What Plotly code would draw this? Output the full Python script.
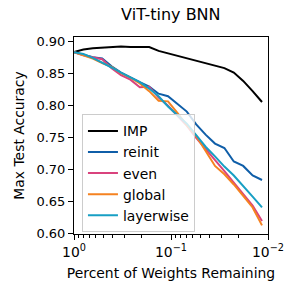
import plotly.graph_objects as go

# Fraction of weights remaining (20% pruned per round)
rounds = list(range(21))
weights_remaining = [0.8 ** k for k in rounds]

imp = [0.883, 0.887, 0.889, 0.890, 0.891, 0.892, 0.891, 0.891, 0.891, 0.885, 0.881,
       0.878, 0.874, 0.869, 0.865, 0.862, 0.858, 0.851, 0.838, 0.822, 0.805]
reinit = [0.883, 0.879, 0.875, 0.873, 0.861, 0.851, 0.843, 0.836, 0.829, 0.818, 0.814,
          0.802, 0.790, 0.770, 0.754, 0.740, 0.733, 0.712, 0.705, 0.690, 0.683]
even = [0.883, 0.878, 0.875, 0.872, 0.858, 0.847, 0.840, 0.828, 0.829, 0.812, 0.799,
        0.784, 0.768, 0.749, 0.732, 0.715, 0.697, 0.679, 0.661, 0.643, 0.619]
global_ = [0.883, 0.878, 0.873, 0.866, 0.860, 0.850, 0.843, 0.834, 0.822, 0.807, 0.806,
           0.788, 0.769, 0.752, 0.728, 0.705, 0.692, 0.676, 0.658, 0.640, 0.612]
layerwise = [0.883, 0.880, 0.874, 0.867, 0.859, 0.851, 0.844, 0.836, 0.826, 0.814, 0.798,
             0.785, 0.771, 0.753, 0.735, 0.720, 0.704, 0.690, 0.674, 0.657, 0.640]

series_names = ["IMP", "reinit", "even", "global", "layerwise"]
series_values = [imp, reinit, even, global_, layerwise]
series_colors = ["#000000", "#0f5ea8", "#d9437d", "#f58220", "#179fc4"]

y_ticks = [0.60, 0.65, 0.70, 0.75, 0.80, 0.85, 0.90]
x_ticks = [1, 0.1, 0.01]
x_tick_labels = ["10<sup>0</sup>", "10<sup>\u22121</sup>", "10<sup>\u22122</sup>"]
minor_x = [m * 10 ** e for e in (-2, -1) for m in range(2, 10)]

FONT = "DejaVu Sans"

fig = go.Figure()
for name, vals, col in zip(series_names, series_values, series_colors):
    fig.add_trace(go.Scatter(x=weights_remaining, y=vals, mode="lines", name=name,
                             line=dict(color=col, width=2)))

fig.update_layout(
    width=299, height=299,
    margin=dict(l=74, r=31, t=37, b=65),
    paper_bgcolor="white", plot_bgcolor="white",
    font=dict(family=FONT, size=13, color="black"),
    title=dict(text="ViT-tiny BNN", x=(74 + 267.7) / 2 / 299, xanchor="center",
               y=1 - 14 / 299, yanchor="middle", font=dict(size=16, family=FONT)),
    showlegend=True,
    legend=dict(x=0.041, y=0.008, xanchor="left", yanchor="bottom",
                bgcolor="rgba(255,255,255,0.8)", bordercolor="#cccccc", borderwidth=1,
                font=dict(size=13.9, family=FONT), tracegroupgap=0),
)
fig.update_xaxes(
    type="log", range=[0, -2], showgrid=False, zeroline=False, automargin=False,
    showline=True, linecolor="black", linewidth=1, mirror=True,
    ticks="outside", ticklen=5, tickwidth=1, tickcolor="black",
    tickvals=x_ticks, ticktext=x_tick_labels, tickfont=dict(size=13.9),
    minor=dict(tickvals=minor_x, ticks="outside", ticklen=3, tickwidth=0.8, tickcolor="black", showgrid=False),
    title=dict(text="Percent of Weights Remaining", font=dict(size=13.9), standoff=9),
)
fig.update_yaxes(
    range=[0.5985, 0.9067], showgrid=False, zeroline=False, automargin=False,
    showline=True, linecolor="black", linewidth=1, mirror=True,
    ticks="outside", ticklen=5, tickwidth=1, tickcolor="black",
    tickvals=y_ticks, tickformat=".2f", tickfont=dict(size=13),
    title=dict(text="Max Test Accuracy", font=dict(size=13.9), standoff=8),
)

fig.write_html("out.html", config={"displayModeBar": False},
               post_script="document.body.style.margin='0';document.body.style.padding='0';")
